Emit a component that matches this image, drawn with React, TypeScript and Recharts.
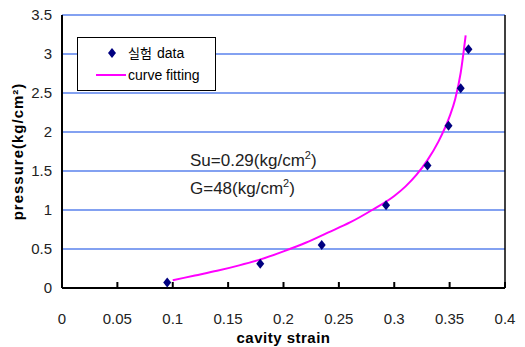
import React from 'react'
import {
  ComposedChart, Line, Scatter, XAxis, YAxis, CartesianGrid, ReferenceLine, Customized,
} from 'recharts'

const STRAIN = [0.095, 0.179, 0.2345, 0.2926, 0.33, 0.349, 0.36, 0.367]
const PRESSURE = [0.07, 0.31, 0.55, 1.06, 1.57, 2.08, 2.56, 3.06]

const FIT_X = [0.1, 0.12, 0.14, 0.16, 0.18, 0.2, 0.22, 0.24, 0.26, 0.28, 0.3, 0.31, 0.32, 0.33, 0.34, 0.35, 0.355, 0.36, 0.3645]
const FIT_Y = [0.1, 0.16, 0.22, 0.29, 0.37, 0.47, 0.58, 0.71, 0.84, 1.0, 1.18, 1.3, 1.45, 1.64, 1.88, 2.2, 2.42, 2.76, 3.24]

const X_TICKS = [0, 0.05, 0.1, 0.15, 0.2, 0.25, 0.3, 0.35, 0.4]
const Y_TICKS = [0, 0.5, 1, 1.5, 2, 2.5, 3, 3.5]

const points = STRAIN.map((x, i) => ({ x, y: PRESSURE[i] }))
const fit = FIT_X.map((x, i) => ({ x, y: FIT_Y[i] }))

const NAVY = '#000080'
const PINK = '#ff00ff'
const GRID = '#5a82ec'
const NARROW = "'Liberation Sans Narrow', 'Liberation Sans', Arial, sans-serif"

const Diamond = (p: any) => {
  const { cx, cy } = p
  return <polygon points={`${cx},${cy - 5} ${cx + 4},${cy} ${cx},${cy + 5} ${cx - 4},${cy}`} fill={NAVY} />
}

const LegendBox = () => (
  <div style={{
    position: 'absolute', left: 77, top: 37,
    border: '1px solid #000', background: '#fff', width: 139, height: 54,
    boxSizing: 'border-box', padding: '4px 0 0 0', fontSize: 14, lineHeight: '22px',
  }}>
    <div style={{ display: 'flex', alignItems: 'center' }}>
      <svg width={50} height={14}><polygon points="34,2 38,7 34,12 30,7" fill={NAVY} /></svg>
      <span style={{ fontFamily: "'Noto Sans CJK KR', sans-serif", fontSize: 13 }}>실험</span>
      <span style={{ fontFamily: NARROW, marginLeft: 5 }}>data</span>
    </div>
    <div style={{ display: 'flex', alignItems: 'center' }}>
      <svg width={50} height={14}><line x1={18} y1={7} x2={48} y2={7} stroke={PINK} strokeWidth={2} /></svg>
      <span style={{ fontFamily: NARROW }}>curve fitting</span>
    </div>
  </div>
)

const Notes = () => (
  <g fontFamily={NARROW} fontSize={17} fill="#222">
    <text x={190} y={166}>Su=0.29(kg/cm<tspan dy={-7} fontSize={11}>2</tspan><tspan dy={7}>)</tspan></text>
    <text x={190} y={194}>G=48(kg/cm<tspan dy={-7} fontSize={11}>2</tspan><tspan dy={7}>)</tspan></text>
  </g>
)

export default function App() {
  return (
    <div style={{ position: 'absolute', left: 0, top: 0, width: 525, height: 347, background: '#fff' }}>
      <ComposedChart width={525} height={347} margin={{ top: 15, right: 20, bottom: 19, left: 20 }}>
        <CartesianGrid horizontal vertical={false} stroke={GRID} strokeWidth={1.5} />
        <XAxis
          type="number" dataKey="x" domain={[0, 0.4]} ticks={X_TICKS} allowDataOverflow
          height={40} stroke="#000" strokeWidth={2} tickSize={-6} tickMargin={31}
          tick={{ fontFamily: NARROW, fontSize: 15, fill: '#222' }}
          label={{ value: 'cavity strain', position: 'insideBottom', offset: -15, style: { fontFamily: 'Arial, sans-serif', fontWeight: 'bold', fontSize: 15, fill: '#000', letterSpacing: 0.5 } }}
        />
        <YAxis
          type="number" dataKey="y" domain={[0, 3.5]} ticks={Y_TICKS} width={42}
          stroke="#000" strokeWidth={2} tickLine={false} tickSize={0} tickMargin={10}
          tick={{ fontFamily: NARROW, fontSize: 15, fill: '#222' }}
          label={{ value: 'pressure(kg/cm²)', angle: -90, position: 'insideLeft', offset: -2, style: { textAnchor: 'middle', fontFamily: 'Arial, sans-serif', fontWeight: 'bold', fontSize: 15, fill: '#000', letterSpacing: 1 } }}
        />
        <ReferenceLine x={0.4} stroke="#000" strokeWidth={1.5} />
        <Line data={fit} dataKey="y" type="monotone" stroke={PINK} strokeWidth={2} dot={false} isAnimationActive={false} />
        <Scatter data={points} dataKey="y" fill={NAVY} shape={<Diamond />} isAnimationActive={false} />
        <Customized component={<Notes />} />
      </ComposedChart>
      <LegendBox />
    </div>
  )
}
